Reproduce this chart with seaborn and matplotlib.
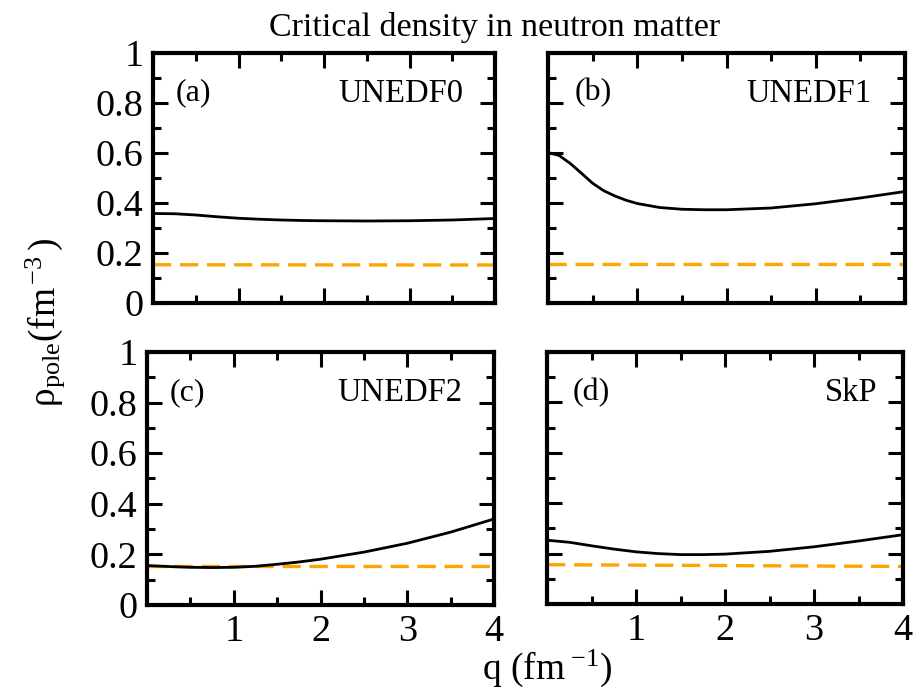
import numpy as np
import pandas as pd
import matplotlib
matplotlib.use("Agg")
import matplotlib.pyplot as plt
import seaborn as sns
from matplotlib.ticker import MultipleLocator, FixedLocator

# ---------------- data ----------------
q = [0.0, 0.25, 0.5, 0.75, 1.0, 1.25, 1.5, 1.75, 2.0, 2.5, 3.0, 3.5, 4.0]
rho_unedf0 = [0.358, 0.357, 0.352, 0.345, 0.339, 0.335, 0.332, 0.330, 0.329, 0.328, 0.329, 0.332, 0.338]
rho_unedf2 = [0.156, 0.152, 0.149, 0.148, 0.149, 0.153, 0.161, 0.170, 0.181, 0.209, 0.244, 0.288, 0.340]
rho_skp = [0.253, 0.245, 0.231, 0.218, 0.207, 0.200, 0.196, 0.196, 0.198, 0.209, 0.227, 0.250, 0.275]

q_unedf1 = [0.0, 0.125, 0.25, 0.375, 0.5, 0.625, 0.75, 0.875, 1.0, 1.25, 1.5, 1.75, 2.0, 2.5, 3.0, 3.5, 4.0]
rho_unedf1 = [0.602, 0.590, 0.558, 0.519, 0.479, 0.449, 0.428, 0.411, 0.398, 0.382, 0.375, 0.373, 0.373, 0.380, 0.397, 0.420, 0.446]

q_ref = [0.0, 4.0]
ref_unedf0 = [0.153, 0.152]
ref_unedf1 = [0.155, 0.155]
ref_unedf2 = [0.153, 0.153]
ref_skp = [0.156, 0.149]

panel_tags = ["(a)", "(b)", "(c)", "(d)"]
panel_names = ["UNEDF0", "UNEDF1", "UNEDF2", "SkP"]
x_tick_values = [1, 2, 3, 4]
x_tick_labels = ["1", "2", "3", "4"]
y_tick_values = [0, 0.2, 0.4, 0.6, 0.8, 1.0]
y_tick_labels = ["0", "0.2", "0.4", "0.6", "0.8", "1"]

title_text = "Critical density in neutron matter"
xlabel_text = r"q (fm$^{\,\,\mathrm{-1}}$)"
ylabel_text = r"ρ$_{\rm pole}$(fm$^{\,\mathrm{-3}}$$\,$)"

# ---------------- style ----------------
sns.set_theme(style="ticks")
plt.rcParams["font.family"] = ["Liberation Serif", "DejaVu Serif"]
plt.rcParams["mathtext.fontset"] = "custom"
plt.rcParams["mathtext.rm"] = "Liberation Serif"
plt.rcParams["mathtext.it"] = "Liberation Serif:italic"
plt.rcParams["mathtext.bf"] = "Liberation Serif:bold"
plt.rcParams["text.color"] = "black"
plt.rcParams["axes.labelcolor"] = "black"
plt.rcParams["xtick.color"] = "black"
plt.rcParams["ytick.color"] = "black"
plt.rcParams["axes.edgecolor"] = "black"

W, H = 917, 697
fig = plt.figure(figsize=(W / 100, H / 100), dpi=100)

# axes boxes in pixels: left, top, right, bottom
boxes = [
    (153, 53, 495, 303),
    (548, 53, 905, 303),
    (147, 352, 494, 605),
    (547, 352, 903, 604),
]

curve_q = [q, q_unedf1, q, q]
curves = [rho_unedf0, rho_unedf1, rho_unedf2, rho_skp]
refs = [ref_unedf0, ref_unedf1, ref_unedf2, ref_skp]
tag_x = [0.26, 0.30, 0.265, 0.29]
name_x = [3.63, 3.63, 3.64, 3.71]

for i, (l, t, r, b) in enumerate(boxes):
    ax = fig.add_axes([l / W, 1 - b / H, (r - l) / W, (b - t) / H])
    ax.set_facecolor("white")
    df = pd.DataFrame({"q": curve_q[i], "rho": curves[i]})
    dref = pd.DataFrame({"q": q_ref, "rho": refs[i]})
    sns.lineplot(data=dref, x="q", y="rho", ax=ax, color="#FFA500", lw=2.4,
                 linestyle=(0, (5.5, 2.6)), zorder=2)
    sns.lineplot(data=df, x="q", y="rho", ax=ax, color="black", lw=2.0, zorder=3)
    ax.set_xlim(0, 4)
    ax.set_ylim(0, 1)
    ax.set_xlabel("")
    ax.set_ylabel("")
    for s in ax.spines.values():
        s.set_visible(True)
        s.set_linewidth(3.0)
        s.set_color("black")
    ax.xaxis.set_major_locator(FixedLocator([0] + x_tick_values))
    ax.xaxis.set_minor_locator(MultipleLocator(0.5))
    ax.yaxis.set_major_locator(FixedLocator(y_tick_values))
    ax.yaxis.set_minor_locator(MultipleLocator(0.1))
    ax.tick_params(which="both", direction="in", top=True, right=True,
                   bottom=True, left=True, width=2.2, color="black",
                   labelcolor="black")
    ax.tick_params(which="major", length=11, labelsize=27.5, pad=7)
    ax.tick_params(which="minor", length=6)
    if i >= 2:
        ax.set_xticklabels([""] + x_tick_labels)
    else:
        ax.set_xticklabels([])
    if i % 2 == 0:
        ax.set_yticklabels(y_tick_labels)
    else:
        ax.set_yticklabels([])
    ax.text(tag_x[i], 0.81, panel_tags[i], fontsize=23, ha="left", va="baseline", color="black")
    ax.text(name_x[i], 0.805, panel_names[i], fontsize=23.5, ha="right", va="baseline", color="black")

fig.text(494.5 / W, 1 - 36 / H, title_text, fontsize=24.5, ha="center", va="baseline", color="black")
fig.text(547 / W, 1 - 668 / H, xlabel_text, fontsize=27, ha="center", va="center", color="black")
fig.text(45 / W, 1 - 323 / H, ylabel_text, fontsize=27, ha="center", va="center", rotation=90, color="black")

fig.savefig("out.png", dpi=100, facecolor="white")
